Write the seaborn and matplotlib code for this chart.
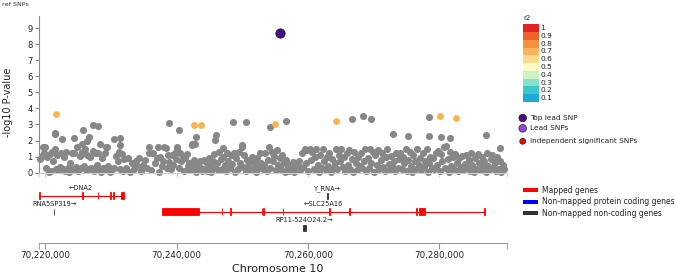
import numpy as np
import pandas as pd
import matplotlib
matplotlib.use('Agg')
import matplotlib.pyplot as plt
import seaborn as sns
from matplotlib.patches import Rectangle
from matplotlib.ticker import FuncFormatter

sns.set_style('white')
plt.rcParams['font.family'] = ['DejaVu Sans']

# positions are kb offsets from 70,000,000 on chromosome 10
OFFSET = 70_000_000
X_MIN_KB, X_MAX_KB = 219.01, 290.32

# grey SNPs (no LD info)
grey_kb = [
    219.2, 219.4, 219.6, 219.8, 220.0, 220.1, 220.3, 220.5, 220.7, 220.9,
    221.0, 221.2, 221.4, 221.6, 221.8, 222.0, 222.2, 222.4, 222.6, 222.8,
    223.0, 223.2, 223.4, 223.6, 223.8, 224.0, 224.2, 224.4, 224.6, 224.8,
    225.0, 225.2, 225.4, 225.6, 225.8, 226.0, 226.2, 226.4, 226.6, 226.8,
    227.0, 227.2, 227.4, 227.6, 227.8, 228.0, 228.2, 228.4, 228.6, 228.8,
    229.0, 229.2, 229.4, 229.6, 229.8, 230.0, 230.4, 230.8, 231.0, 231.2,
    231.4, 231.6, 231.8, 232.0, 232.3, 232.6, 232.9, 233.2, 233.5, 233.8,
    234.0, 234.3, 234.6, 234.9, 235.2, 235.5, 235.8, 236.1, 236.4, 236.7,
    237.0, 237.3, 237.5, 237.7, 237.9, 238.1, 238.3, 238.5, 238.7, 238.9,
    239.1, 239.3, 239.5, 239.7, 239.9, 240.1, 240.3, 240.5, 240.7, 240.9,
    241.1, 241.3, 241.5, 241.7, 241.9, 242.1, 242.3, 242.5, 242.7, 242.9,
    243.1, 243.3, 243.5, 243.7, 243.9, 244.1, 244.3, 244.5, 244.7, 244.9,
    245.1, 245.3, 245.5, 245.7, 245.9, 246.1, 246.3, 246.5, 246.7, 246.9,
    247.1, 247.3, 247.5, 247.7, 247.9, 248.1, 248.3, 248.5, 248.7, 248.9,
    249.1, 249.3, 249.5, 249.7, 249.9, 250.1, 250.3, 250.5, 250.7, 250.9,
    251.1, 251.3, 251.5, 251.7, 251.9, 252.1, 252.3, 252.5, 252.7, 252.9,
    253.1, 253.3, 253.5, 253.7, 253.9, 254.1, 254.3, 254.5, 254.7, 254.9,
    255.1, 255.3, 255.5, 255.7, 255.9, 256.1, 256.3, 256.5, 256.7, 256.9,
    257.1, 257.3, 257.5, 257.7, 257.9, 258.1, 258.3, 258.5, 258.7, 258.9,
    259.1, 259.3, 259.5, 259.7, 259.9, 260.1, 260.3, 260.5, 260.7, 260.9,
    261.1, 261.3, 261.5, 261.7, 261.9, 262.1, 262.3, 262.5, 262.7, 262.9,
    263.1, 263.3, 263.5, 263.7, 263.9, 264.1, 264.3, 264.5, 264.7, 264.9,
    265.1, 265.3, 265.5, 265.7, 265.9, 266.1, 266.3, 266.5, 266.7, 266.9,
    267.1, 267.3, 267.5, 267.7, 267.9, 268.1, 268.3, 268.5, 268.7, 268.9,
    269.1, 269.3, 269.5, 269.7, 269.9, 270.1, 270.3, 270.5, 270.7, 270.9,
    271.1, 271.3, 271.5, 271.7, 271.9, 272.1, 272.3, 272.5, 272.7, 272.9,
    273.1, 273.3, 273.5, 273.7, 273.9, 274.1, 274.3, 274.5, 274.7, 274.9,
    275.1, 275.3, 275.5, 275.7, 275.9, 276.1, 276.3, 276.5, 276.7, 276.9,
    277.1, 277.3, 277.5, 277.7, 277.9, 278.1, 278.3, 278.5, 278.7, 278.9,
    279.1, 279.3, 279.5, 279.7, 279.9, 280.1, 280.3, 280.5, 280.7, 280.9,
    281.1, 281.3, 281.5, 281.7, 281.9, 282.1, 282.3, 282.5, 282.7, 282.9,
    283.1, 283.3, 283.5, 283.7, 283.9, 284.1, 284.3, 284.5, 284.7, 284.9,
    285.1, 285.3, 285.5, 285.7, 285.9, 286.1, 286.3, 286.5, 286.7, 286.9,
    287.1, 287.3, 287.5, 287.7, 287.9, 288.1, 288.3, 288.5, 288.7, 288.9,
    289.1, 289.3, 289.5, 289.7, 289.9,
    # higher grey SNPs
    221.4, 221.5, 222.5, 224.4, 225.6, 225.7, 226.4, 226.6, 227.2, 228.0,
    228.3, 229.2, 230.4, 231.3, 231.4, 235.8, 237.2, 238.9, 240.1, 240.4,
    242.4, 242.8, 242.9, 245.9, 246.0, 247.1, 248.6, 249.9, 250.6, 254.2,
    256.6, 266.7, 268.4, 269.7, 273.0, 275.2, 278.5, 278.5, 280.3, 281.6,
    287.2, 289.3,
]
grey_logp = [
    0.85, 1.05, 1.6, 1.25, 1.6, 0.3, 1.0, 0.05, 1.15, 0.1,
    1.3, 0.7, 1.45, 0.2, 1.1, 0.15, 0.35, 1.2, 0.25, 0.95,
    0.1, 1.3, 0.3, 0.05, 0.6, 1.2, 0.2, 1.25, 0.35, 1.6,
    0.1, 1.05, 0.3, 1.3, 0.4, 1.45, 0.15, 1.1, 0.25, 0.95,
    0.3, 1.35, 0.1, 1.2, 0.45, 1.25, 0.2, 0.05, 0.9, 0.3,
    1.25, 0.15, 1.6, 0.4, 0.05, 0.1, 0.3, 1.05, 0.7, 1.3,
    0.2, 1.15, 0.1, 0.85, 0.3, 0.9, 0.05, 0.6, 0.2, 0.75,
    0.4, 0.9, 0.1, 0.5, 0.8, 0.3, 1.2, 0.15, 1.25, 0.6,
    0.9, 0.05, 1.0, 0.4, 0.7, 1.6, 1.55, 0.3, 1.1, 0.65,
    0.2, 1.1, 0.5, 1.2, 0.85, 1.55, 0.3, 1.2, 0.7, 1.05,
    0.1, 0.9, 1.15, 0.4, 0.6, 0.15, 1.7, 0.35, 0.8, 0.05,
    0.55, 0.2, 0.75, 0.3, 0.1, 0.8, 0.25, 0.65, 0.1, 0.9,
    0.4, 0.05, 0.75, 1.15, 0.3, 0.6, 0.15, 1.3, 0.85, 0.2,
    1.0, 0.45, 0.1, 1.2, 0.7, 0.3, 1.1, 0.55, 1.25, 0.05,
    0.9, 0.2, 1.3, 0.6, 1.75, 0.35, 1.1, 0.1, 0.8, 0.4,
    0.15, 0.7, 1.0, 0.25, 0.55, 0.05, 0.9, 0.3, 1.25, 0.6,
    0.2, 0.45, 1.2, 0.1, 0.8, 1.6, 0.3, 1.3, 0.7, 1.05,
    0.15, 1.4, 0.5, 0.9, 0.2, 1.1, 0.6, 0.05, 0.8, 0.35,
    0.1, 0.5, 0.2, 0.65, 0.05, 0.3, 0.45, 0.15, 0.7, 0.25,
    1.2, 0.35, 1.45, 0.6, 1.4, 0.1, 1.45, 0.8, 1.3, 0.25,
    0.95, 1.45, 0.5, 0.05, 1.1, 0.3, 1.45, 0.7, 0.15, 1.0,
    0.4, 1.25, 0.05, 0.85, 0.3, 0.6, 1.45, 0.2, 1.1, 0.75,
    1.45, 0.35, 0.95, 0.1, 1.2, 0.5, 1.4, 0.25, 0.85, 0.05,
    1.3, 0.6, 0.15, 1.0, 0.4, 1.2, 0.3, 0.7, 1.45, 0.1,
    0.9, 0.3, 1.45, 0.6, 1.3, 0.05, 1.1, 0.45, 1.4, 0.2,
    0.8, 1.2, 0.35, 0.1, 0.95, 1.45, 0.55, 0.2, 1.05, 0.4,
    0.7, 0.1, 1.25, 0.3, 0.85, 1.2, 0.25, 1.0, 0.6, 1.45,
    0.1, 0.8, 1.3, 0.4, 0.05, 1.1, 0.7, 0.2, 1.45, 0.5,
    0.9, 0.15, 1.25, 0.35, 0.75, 1.45, 0.05, 0.6, 1.0, 0.3,
    0.9, 0.2, 1.2, 0.5, 1.35, 0.1, 1.15, 0.7, 1.6, 0.3,
    1.65, 0.85, 0.05, 1.3, 0.4, 1.0, 0.2, 1.15, 0.6, 0.1,
    0.9, 0.35, 1.05, 0.15, 0.55, 1.1, 0.3, 0.8, 0.1, 1.2,
    0.45, 0.05, 0.9, 0.25, 1.15, 0.6, 0.15, 1.0, 0.35, 0.7,
    0.05, 1.2, 0.4, 0.2, 0.85, 1.1, 0.3, 0.6, 0.1, 0.95,
    0.25, 0.75, 0.05, 0.5, 0.2,
    2.39, 2.49, 2.1, 2.14, 1.77, 2.64, 1.97, 2.2, 2.95, 2.88,
    1.78, 1.62, 2.08, 2.14, 1.7, 1.6, 1.62, 3.07, 1.6, 2.64,
    1.77, 1.78, 2.22, 2.03, 2.36, 1.52, 3.13, 1.6, 3.17, 2.86,
    3.2, 3.32, 3.53, 3.32, 2.43, 2.28, 3.44, 2.28, 2.2, 2.16,
    2.32, 1.56,
]

# SNPs in LD (r2 0.6-0.7) with the lead
ld_kb = [221.6, 242.6, 243.7, 255.0, 264.3, 280.1, 282.6]
ld_logp = [3.63, 2.99, 2.99, 3.03, 3.23, 3.55, 3.42]

# top lead SNP
lead_kb = [255.8]
lead_logp = [8.7]

# genes
gene_names = ['DNA2', 'RNA5SP319', 'SLC25A16', 'Y_RNA', 'RP11-524O24.2']
gene_start_kb = [219.0, 221.27, 237.75, 262.97, 259.3]
gene_end_kb = [231.9, 221.33, 287.0, 263.03, 259.72]
gene_strand = ['-', '+', '-', '+', '+']
gene_row = [0, 1, 1, 0, 2]
gene_mapped = [True, False, True, False, False]
gene_exons_kb = [
    [(219.0, 219.1), (225.55, 225.65), (227.95, 228.05), (229.85, 229.95),
     (230.35, 230.45), (231.55, 231.9)],
    [(221.27, 221.33)],
    [(237.75, 243.4), (246.85, 246.95), (248.15, 248.25), (252.95, 253.05),
     (253.2, 253.3), (256.15, 256.25), (263.25, 263.35), (266.35, 266.45),
     (276.55, 276.65), (276.9, 277.9), (286.9, 287.0)],
    [(262.97, 263.03)],
    [(259.3, 259.72)],
]

r2_levels = ['1', '0.9', '0.8', '0.7', '0.6', '0.5', '0.4', '0.3', '0.2', '0.1']
r2_colors = ['#e3231f', '#ef622b', '#f6913d', '#fbb35d', '#fdda8c',
             '#fffbc6', '#cdf2c6', '#89e0c9', '#3dc6cb', '#1eaad6']

snp_legend = ['Top lead SNP', 'Lead SNPs', 'Independent significant SNPs']
snp_legend_colors = ['#4b0a8c', '#9a3fe0', '#ff0000']
gene_legend = ['Mapped genes', 'Non-mapped protein coding genes',
               'Non-mapped non-coding genes']
gene_legend_colors = ['#ff0000', '#0000ff', '#333333']


def to_bp(kb):
    return OFFSET + np.asarray(kb) * 1000


W, H = 675, 275
fig = plt.figure(figsize=(6.75, 2.75), dpi=100)


def px_axes(x0, y0, x1, y1):
    return fig.add_axes([x0 / W, 1 - y1 / H, (x1 - x0) / W, (y1 - y0) / H])


xmin, xmax = to_bp(X_MIN_KB), to_bp(X_MAX_KB)
major = to_bp([220, 240, 260, 280])

# --- regional scatter ---
ax = px_axes(39, 16, 506.7, 172.7)
grey = pd.DataFrame({'pos': to_bp(grey_kb), 'logp': grey_logp})
ld = pd.DataFrame({'pos': to_bp(ld_kb), 'logp': ld_logp})
lead = pd.DataFrame({'pos': to_bp(lead_kb), 'logp': lead_logp})
sns.scatterplot(data=grey, x='pos', y='logp', color='#878787', s=26,
                linewidth=0, ax=ax, clip_on=False, zorder=2)
sns.scatterplot(data=ld, x='pos', y='logp', color='#fbb24f', s=24,
                linewidth=0, ax=ax, clip_on=False, zorder=3)
sns.scatterplot(data=lead, x='pos', y='logp', color='#4b0a8c', s=44,
                edgecolor='#111111', linewidth=0.6, ax=ax, zorder=4)
ax.set_xlim(xmin, xmax)
ax.set_ylim(0, 9.75)
ax.set_yticks(range(10))
ax.set_xticks(major)
ax.set_xticks([xmin, xmax], minor=True)
ax.set_xticklabels([])
for s in ['top', 'right']:
    ax.spines[s].set_visible(False)
ax.spines['left'].set_color('#8c8c8c')
ax.spines['bottom'].set_color('#cfcfcf')
ax.tick_params(axis='y', colors='#8c8c8c', labelcolor='#222222', length=3,
               width=0.8, labelsize=6, pad=1.5, left=True)
ax.tick_params(axis='x', which='both', colors='#cfcfcf', length=3, bottom=True)
ax.set_xlabel('')
ax.set_ylabel('-log10 P-value', fontsize=7, color='#222222')
ax.yaxis.set_label_coords(-0.055, 0.448)

# --- gene track ---
gx = px_axes(39, 180, 506.7, 243.3)
gx.set_xlim(xmin, xmax)
gx.set_ylim(63.3, 0)
for i, name in enumerate(gene_names):
    col = '#ff0000' if gene_mapped[i] else '#333333'
    yc = 15.7 + 16 * gene_row[i]
    h = 7 if gene_mapped[i] else 6
    s0, s1 = to_bp(gene_start_kb[i]), to_bp(gene_end_kb[i])
    gx.hlines(yc, s0, s1, color=col, linewidth=0.8)
    for e0, e1 in gene_exons_kb[i]:
        b0, b1 = to_bp(e0), to_bp(e1)
        gx.add_patch(Rectangle((b0, yc - h / 2), b1 - b0, h, facecolor=col,
                               edgecolor=col, linewidth=0.6))
    label = '\u2190' + name if gene_strand[i] == '-' else name + '\u2192'
    mid = (max(s0, xmin) + min(s1, xmax)) / 2
    gx.text(mid, yc - 7.5, label, fontsize=4.8, color='#222222',
            ha='center', va='center')
for s in ['top', 'right', 'left']:
    gx.spines[s].set_visible(False)
gx.spines['bottom'].set_color('#999999')
gx.set_yticks([])
gx.set_xticks(major)
gx.set_xticks([xmin, xmax], minor=True)
gx.xaxis.set_major_formatter(FuncFormatter(lambda v, p: f'{int(round(v)):,}'))
gx.tick_params(axis='x', which='both', colors='#999999', labelcolor='#222222',
               length=4, labelsize=6.3, pad=1.5, bottom=True)
gx.set_xlabel('Chromosome 10', fontsize=8, color='#222222')
gx.xaxis.set_label_coords(0.51, -0.32)

# --- legends (pixel overlay) ---
lx = fig.add_axes([0, 0, 1, 1])
lx.set_xlim(0, W)
lx.set_ylim(H, 0)
lx.axis('off')
lx.text(1.5, 4.5, 'ref SNPs', fontsize=4.6, color='#333333', va='center')

lx.text(527, 18.3, 'r2', fontsize=5, color='#222222', ha='center', va='center')
step = 7.77
for i, (lab, c) in enumerate(zip(r2_levels, r2_colors)):
    lx.add_patch(Rectangle((522.5, 24.3 + i * step), 16, step, facecolor=c,
                           edgecolor='none'))
    lx.text(540.5, 24.3 + (i + 0.5) * step, lab, fontsize=5.3,
            color='#222222', va='center')

snp_y = [118, 128.3, 141.3]
lx.scatter([522.7] * 3, snp_y, s=[30, 30, 18], c=snp_legend_colors,
           edgecolors='#222222', linewidths=0.5)
for lab, y in zip(snp_legend, snp_y):
    lx.text(530.5, y, lab, fontsize=5.3, color='#222222', va='center')

gene_y = [190.3, 201.7, 213.3]
for lab, c, y in zip(gene_legend, gene_legend_colors, gene_y):
    lx.add_patch(Rectangle((522.7, y - 2), 15.6, 4, facecolor=c, edgecolor='none'))
    lx.text(541.7, y, lab, fontsize=5.5, color='#222222', va='center')

fig.savefig('out.png', dpi=100)
